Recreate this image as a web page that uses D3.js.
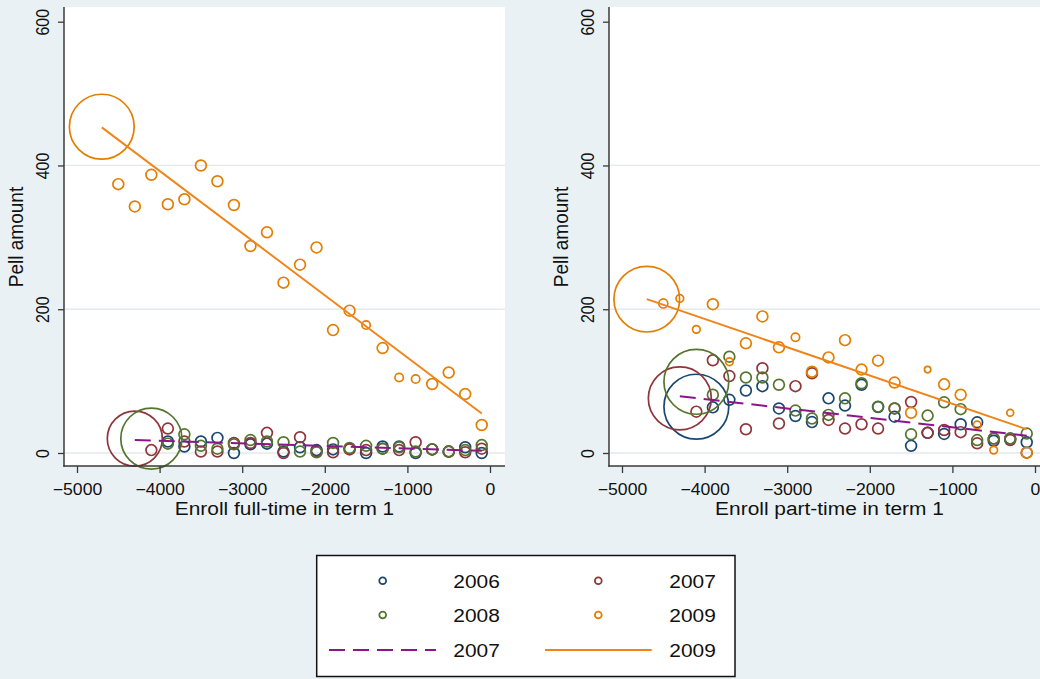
<!DOCTYPE html>
<html><head><meta charset="utf-8">
<script src="https://cdn.jsdelivr.net/npm/d3@7"></script>
<style>
html,body{margin:0;padding:0;background:#eaf1f4;}
svg{display:block;font-family:"Liberation Sans",Arial,Helvetica,sans-serif;}
</style>
</head><body>
<svg id="chart" width="1040" height="679"></svg>
<script>
// ---------------- data ----------------
const xBins = [-4700,-4500,-4300,-4100,-3900,-3700,-3500,-3300,-3100,-2900,-2700,-2500,
               -2300,-2100,-1900,-1700,-1500,-1300,-1100,-900,-700,-500,-300,-100];
const years = ["2006","2007","2008","2009"];
const xTicks = [-5000,-4000,-3000,-2000,-1000,0];
const yTicks = [0,200,400,600];

// Panel 1: Enroll full-time in term 1
const fullY2006 = [null,null,null,null,16,9,16,21,0,12,13,2,8,4,5,6,0,9,9,0,5,2,8,0];
const fullY2007 = [null,null,20,4,34,16,2,2,14,14,28,0,22,2,1,5,4,6,4,15,5,2,1,6];
const fullY2008 = [null,null,null,20,13,26,10,6,12,18,16,15,2,1,14,7,10,6,8,2,5,2,4,11];
const fullY2009 = [454,374,343,387,346,353,400,378,345,288,307,237,262,286,171,198,178,146,105,103,96,112,82,39];
const fullN2006 = [1,1,1,1,1,1,1,1,1,1,1,1,1,1,1,1,1,1,1,1,1,1,1,1];
const fullN2007 = [1,1,26,1,1,1,1,1,1,1,1,1,1,1,1,1,1,1,1,1,1,1,1,1];
const fullN2008 = [1,1,1,32,1,1,1,1,1,1,1,1,1,1,1,1,1,1,1,1,1,1,1,1];
const fullN2009 = [36,1,1,1,1,1,1,1,1,1,1,1,1,1,1,1,0.6,1,0.6,0.6,1,1,1,1];
const fullFitX2007 = [-4300,-100], fullFitY2007 = [18,3];
const fullFitX2009 = [-4700,-100], fullFitY2009 = [453,55];

// Panel 2: Enroll part-time in term 1
const partY2006 = [null,null,null,64.5,63.5,74,87,93,62,51.5,43,76,66,95,64,50.5,10,28,26.5,40,42.7,17,20,15];
const partY2007 = [null,null,76,57.5,129,107,33,118,41,93,111,46,34,40,34,62,71,28,32,29,13.5,20,18,0.5];
const partY2008 = [null,null,null,99,81,134,105,105,95,59,48,53,76,97,64.5,62,26,52,70.5,61,18,20,20,27];
const partY2009 = [214,208,215,172,207,127,152.6,190,147,161,113,133,157,116,128.5,98,56,116,95.5,81,39,4,56,0.5];
const partN2006 = [1,1,1,36,1,1,1,1,1,1,1,1,1,1,1,1,1,1,1,1,1,1,1,1];
const partN2007 = [1,1,34,1,1,1,1,1,1,1,1,1,1,1,1,1,1,1,1,1,1,1,1,1];
const partN2008 = [1,1,1,36,1,1,1,1,1,1,1,1,1,1,1,1,1,1,1,1,1,1,1,1];
const partN2009 = [37,0.7,0.5,0.5,1,0.5,1,1,1,0.6,1,1,1,1,1,1,1,0.35,1,1,0.5,0.5,0.4,1];
const partFitX2007 = [-4300,-100], partFitY2007 = [79,24];
const partFitX2009 = [-4700,-100], partFitY2009 = [214,33];

// ---------------- styling ----------------
const colors = {"2006":"#1a476f","2007":"#90353b","2008":"#55752f","2009":"#e37e00"};
const fitColor2007 = "#8b168b", fitColor2009 = "#f0841a";
const axisColor = "#3a3a3a";
const SX = 1.1; // horizontal text stretch

const svg = d3.select("#chart");
const r = d3.scaleSqrt().domain([0,1]).range([0,5.4]);

const panels = [
  {off:0, title:"Enroll full-time in term 1",
   ys:[fullY2006,fullY2007,fullY2008,fullY2009], ns:[fullN2006,fullN2007,fullN2008,fullN2009],
   f7:[fullFitX2007,fullFitY2007], f9:[fullFitX2009,fullFitY2009]},
  {off:545, title:"Enroll part-time in term 1",
   ys:[partY2006,partY2007,partY2008,partY2009], ns:[partN2006,partN2007,partN2008,partN2009],
   f7:[partFitX2007,partFitY2007], f9:[partFitX2009,partFitY2009]}
];

panels.forEach(p => {
  const off = p.off;
  const x = d3.scaleLinear().domain([-5000,0]).range([77+off,490+off]);
  const y = d3.scaleLinear().domain([0,600]).range([453,21.7]);
  const g = svg.append("g");

  // plot region
  g.append("rect").attr("x",64+off).attr("y",7).attr("width",441).attr("height",459).attr("fill","#ffffff");
  // gridlines
  g.selectAll(".grid").data([0,200,400]).join("line")
    .attr("x1",65+off).attr("x2",505+off)
    .attr("y1",d=>y(d)).attr("y2",d=>y(d))
    .attr("stroke","#e4e9ec").attr("stroke-width",1.3);

  // markers
  years.forEach((yr,i) => {
    const pts = xBins.map((xv,j)=>({x:xv, y:p.ys[i][j], n:p.ns[i][j]})).filter(d=>d.y!==null);
    g.append("g").selectAll("circle").data(pts).join("circle")
      .attr("cx",d=>x(d.x)).attr("cy",d=>y(d.y)).attr("r",d=>r(d.n))
      .attr("fill","none").attr("stroke",colors[yr]).attr("stroke-width",1.7);
  });

  // fit lines
  const line = d3.line().x(d=>x(d[0])).y(d=>y(d[1]));
  g.append("path").datum(p.f9[0].map((v,k)=>[v,p.f9[1][k]])).attr("d",line)
    .attr("fill","none").attr("stroke",fitColor2009).attr("stroke-width",1.9);
  g.append("path").datum(p.f7[0].map((v,k)=>[v,p.f7[1][k]])).attr("d",line)
    .attr("fill","none").attr("stroke",fitColor2007).attr("stroke-width",2)
    .attr("stroke-dasharray","16,8");

  // axes
  const ax = g.append("g").attr("transform",`translate(0,466)`)
    .call(d3.axisBottom(x).tickValues(xTicks).tickSize(7).tickSizeOuter(0).tickFormat(d3.format("d")));
  ax.select(".domain").remove();
  ax.selectAll("line").attr("stroke",axisColor).attr("stroke-width",1.3);
  ax.selectAll("text").attr("x",0).attr("y",29).attr("dy",0).attr("fill","#111")
    .attr("font-size",16).attr("transform",`scale(${SX},1)`);

  const ay = g.append("g").attr("transform",`translate(${64+off},0)`)
    .call(d3.axisLeft(y).tickValues(yTicks).tickSize(6).tickSizeOuter(0).tickFormat(d3.format("d")));
  ay.select(".domain").remove();
  ay.selectAll("line").attr("stroke",axisColor).attr("stroke-width",1.3);
  ay.selectAll("text").attr("x",0).attr("y",0).attr("dy",0).attr("fill","#111")
    .attr("font-size",16).attr("text-anchor","middle")
    .attr("transform",`translate(-15.5,0) scale(${SX},1) rotate(-90)`);

  g.append("line").attr("x1",64+off).attr("x2",64+off).attr("y1",7).attr("y2",466.7)
    .attr("stroke",axisColor).attr("stroke-width",1.5);
  g.append("line").attr("x1",63.3+off).attr("x2",505+off).attr("y1",466).attr("y2",466)
    .attr("stroke",axisColor).attr("stroke-width",1.5);

  // titles
  g.append("text").text("Pell amount").attr("font-size",19).attr("fill","#111")
    .attr("text-anchor","middle")
    .attr("transform",`translate(${22.7+off},237) scale(${SX},1) rotate(-90)`);
  g.append("text").text(p.title).attr("font-size",19).attr("fill","#111")
    .attr("text-anchor","middle")
    .attr("transform",`translate(${284.5+off},515) scale(${SX},1)`);
});

// ---------------- legend ----------------
const lg = svg.append("g");
lg.append("rect").attr("x",316.7).attr("y",555.5).attr("width",418.3).attr("height",121)
  .attr("fill","#ffffff").attr("stroke","#111").attr("stroke-width",1.5);
const legendItems = [
  {type:"m", year:"2006", col:0, row:0},
  {type:"m", year:"2007", col:1, row:0},
  {type:"m", year:"2008", col:0, row:1},
  {type:"m", year:"2009", col:1, row:1},
  {type:"l7", year:"2007", col:0, row:2},
  {type:"l9", year:"2009", col:1, row:2}
];
const rowY = [580.7,615,650];
const colMarkX = [382.7,598.3];
const colLineX = [[329,436],[545,651.7]];
const colTextX = [453.3,669.3];
legendItems.forEach(it => {
  const cy = rowY[it.row];
  if (it.type==="m") {
    lg.append("circle").attr("cx",colMarkX[it.col]).attr("cy",cy).attr("r",3.4)
      .attr("fill","none").attr("stroke",colors[it.year]).attr("stroke-width",1.8);
  } else {
    lg.append("line").attr("x1",colLineX[it.col][0]).attr("x2",colLineX[it.col][1])
      .attr("y1",cy).attr("y2",cy)
      .attr("stroke", it.type==="l7" ? fitColor2007 : fitColor2009)
      .attr("stroke-width",2)
      .attr("stroke-dasharray", it.type==="l7" ? "16,8" : null);
  }
  lg.append("text").text(it.year).attr("font-size",19).attr("fill","#111")
    .attr("transform",`translate(${colTextX[it.col]},${cy+6.8}) scale(${SX},1)`);
});
</script>
</body></html>
